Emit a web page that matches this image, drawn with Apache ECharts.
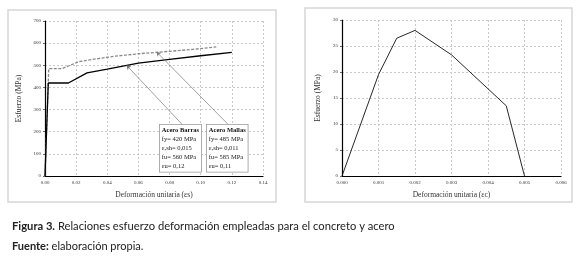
<!DOCTYPE html>
<html>
<head>
<meta charset="utf-8">
<script src="https://cdn.jsdelivr.net/npm/echarts@6/dist/echarts.min.js"></script>
<style>
  html, body { margin: 0; padding: 0; background: #fff; }
  #chart { width: 576px; height: 257px; }
</style>
</head>
<body>
<div id="chart"></div>
<script>
// acero: deformacion unitaria (es) vs esfuerzo (MPa)
var barrasStrain = [0, 0.0021, 0.015, 0.027, 0.04, 0.06, 0.08, 0.10, 0.12]
var barrasStress = [0, 420, 420, 466, 483, 510, 527, 543, 558]
var mallasStrain = [0, 0.0024, 0.011, 0.022, 0.03, 0.045, 0.06, 0.08, 0.095, 0.11]
var mallasStress = [0, 485, 485, 517, 526, 541, 552, 563, 572, 583]
// concreto: deformacion unitaria (ec) vs esfuerzo (MPa)
var concStrain = [0, 0.001, 0.0015, 0.002, 0.003, 0.0045, 0.005]
var concStress = [0, 19.5, 26.5, 28, 23.3, 13.5, 0]

var barrasText = ['{t|Acero Barras}', 'fy= 420 MPa', 'ε,sh= 0,015', 'fu= 560 MPa', 'εu= 0,12']
var mallasText = ['{t|Acero Mallas}', 'fy= 485 MPa', 'ε,sh= 0,011', 'fu= 585 MPa', 'εu= 0,11']

var serif = "'Liberation Serif', 'DejaVu Serif', serif"
var sans = "Lato, 'Open Sans', sans-serif"

function pairs (xs, ys) {
  return xs.map(function (x, i) { return [x, ys[i]] })
}

var gridLine = { show: true, lineStyle: { color: '#c8c8c8', type: [2, 2], width: 1 } }
var axisLbl = { color: '#333', fontSize: 5, fontFamily: serif, margin: 4 }
var nameStyle = { color: '#333', fontSize: 7.5, fontFamily: serif }

function xAx (grid, max, step, digits, name) {
  return {
    type: 'value', gridIndex: grid, min: 0, max: max, interval: step,
    name: name, nameLocation: 'middle', nameGap: 15, nameTextStyle: nameStyle,
    axisLine: { show: true, lineStyle: { color: '#000', width: 1.2 } },
    axisTick: { show: false },
    axisLabel: Object.assign({ formatter: function (v) { return v.toFixed(digits) } }, axisLbl),
    splitLine: gridLine
  }
}

function yAx (grid, max, step, gap) {
  return {
    type: 'value', gridIndex: grid, min: 0, max: max, interval: step,
    name: 'Esfuerzo (MPa)', nameLocation: 'middle', nameGap: gap, nameTextStyle: nameStyle,
    axisLine: { show: true, lineStyle: { color: '#000', width: 1.2 } },
    axisTick: { show: true, length: 2, lineStyle: { color: '#666' } },
    axisLabel: axisLbl,
    splitLine: gridLine
  }
}

function noteBox (x, y, lines) {
  return {
    type: 'text', left: x, top: y, z: 10,
    style: {
      text: lines.join('\n'),
      fill: '#222', font: '6.5px ' + serif, lineHeight: 9,
      backgroundColor: '#fff', borderColor: '#999', borderWidth: 0.8,
      padding: [1, 2, 1, 2],
      rich: { t: { fontWeight: 'bold', fontSize: 6.5, fontFamily: serif, lineHeight: 9, fill: '#111' } }
    }
  }
}

var chart = echarts.init(document.getElementById('chart'))
chart.setOption({
  animation: false,
  title: [
    {
      left: 7, top: 216,
      text: '{b|Figura 3.} Relaciones esfuerzo deformación empleadas para el concreto y acero',
      textStyle: {
        fontSize: 11.2, fontWeight: 'normal', color: '#222', fontFamily: sans,
        rich: { b: { fontSize: 11.2, fontWeight: 'bold', color: '#222', fontFamily: sans } }
      }
    },
    {
      left: 7, top: 236,
      text: '{b|Fuente:} elaboración propia.',
      textStyle: {
        fontSize: 11, fontWeight: 'normal', color: '#222', fontFamily: sans,
        rich: { b: { fontSize: 11, fontWeight: 'bold', color: '#222', fontFamily: sans } }
      }
    }
  ],
  grid: [
    { left: 45, top: 21, width: 218, height: 155 },
    { left: 342, top: 20, width: 219, height: 156 }
  ],
  xAxis: [
    xAx(0, 0.14, 0.02, 2, 'Deformación unitaria (εs)'),
    xAx(1, 0.006, 0.001, 3, 'Deformación unitaria (εc)')
  ],
  yAxis: [
    yAx(0, 700, 100, 22),
    yAx(1, 30, 5, 20)
  ],
  series: [
    {
      name: 'Acero Mallas', type: 'line', xAxisIndex: 0, yAxisIndex: 0,
      data: pairs(mallasStrain, mallasStress), symbol: 'none',
      lineStyle: { color: '#8a8a8a', width: 1.3, type: [3, 1.5] },
      markLine: {
        silent: true, symbol: ['none', 'arrow'], symbolSize: 4,
        label: { show: false },
        lineStyle: { color: '#777', width: 0.7, type: 'solid' },
        data: [[{ coord: [0.1173, 235] }, { coord: [0.0717, 560] }]]
      }
    },
    {
      name: 'Acero Barras', type: 'line', xAxisIndex: 0, yAxisIndex: 0,
      data: pairs(barrasStrain, barrasStress), symbol: 'none',
      lineStyle: { color: '#000', width: 1.3 },
      markLine: {
        silent: true, symbol: ['none', 'arrow'], symbolSize: 4,
        label: { show: false },
        lineStyle: { color: '#777', width: 0.7, type: 'solid' },
        data: [[{ coord: [0.0878, 235] }, { coord: [0.0525, 499] }]]
      }
    },
    {
      name: 'Concreto', type: 'line', xAxisIndex: 1, yAxisIndex: 1,
      data: pairs(concStrain, concStress), symbol: 'none',
      lineStyle: { color: '#111', width: 0.9 }
    }
  ],
  graphic: [
    { type: 'rect', shape: { x: 8, y: 10, width: 268, height: 192 }, style: { fill: 'none', stroke: '#d6d6d6', lineWidth: 1.5 } },
    { type: 'rect', shape: { x: 305, y: 8, width: 267, height: 194 }, style: { fill: 'none', stroke: '#d6d6d6', lineWidth: 1.5 } },
    noteBox(159, 124, barrasText),
    noteBox(206, 124, mallasText)
  ]
})
</script>
</body>
</html>
